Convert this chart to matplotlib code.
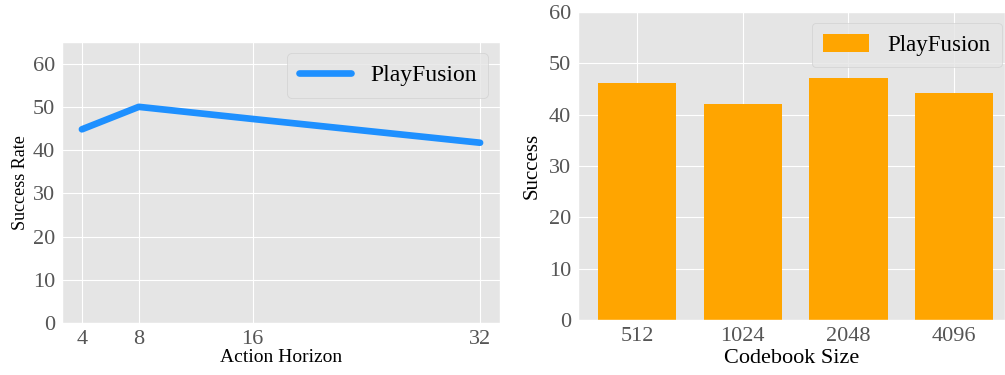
import matplotlib
matplotlib.use("Agg")
import matplotlib.pyplot as plt
import numpy as np

# data
horizon = [4, 8, 16, 32]
horizon_success = [44.8, 50.0, 47.2, 41.7]

codebook = ["512", "1024", "2048", "4096"]
codebook_success = [46.2, 42.1, 47.1, 44.2]

plt.style.use("ggplot")
plt.rcParams["font.family"] = ["Liberation Serif", "DejaVu Serif"]

fig = plt.figure(figsize=(10.05, 3.75), dpi=100)
W, H = 1005, 375

# left: action horizon
ax1 = fig.add_axes([62 / W, (H - 323) / H, (500 - 62) / W, (323 - 42) / H])
ax1.plot(horizon, horizon_success, color="#1E90FF", linewidth=4.8,
         solid_capstyle="round", label="PlayFusion")
ax1.set_ylim(0, 65)
ax1.set_yticks(range(0, 61, 10))
ax1.set_xticks(horizon)
ax1.tick_params(labelsize=16, colors="#555555", length=0, pad=5)
ax1.set_xlabel("Action Horizon", fontsize=14, color="black", labelpad=0)
ax1.set_ylabel("Success Rate", fontsize=13, color="black", labelpad=3)
ax1.legend(loc="upper right", fontsize=17, handlelength=2.2, borderpad=0.5,
           borderaxespad=0, bbox_to_anchor=(0.973, 0.961))

# right: codebook size
ax2 = fig.add_axes([578 / W, (H - 320) / H, (1005 - 578) / W, (320 - 12) / H])
pos = np.arange(len(codebook))
ax2.bar(pos, codebook_success, width=0.74, color="#FFA500", label="PlayFusion")
ax2.set_xlim(-0.557, 3.48)
ax2.set_ylim(0, 60)
ax2.set_xticks(pos)
ax2.set_xticklabels(codebook)
ax2.tick_params(labelsize=16, colors="#555555", length=0, pad=5)
ax2.set_xlabel("Codebook Size", fontsize=16, color="black", labelpad=2)
ax2.set_ylabel("Success", fontsize=15, color="black", labelpad=5)
ax2.legend(loc="upper right", fontsize=16.5, handlelength=2.0, handleheight=0.8,
           borderpad=0.5, borderaxespad=0, bbox_to_anchor=(0.993, 0.965))

fig.savefig("out.png", dpi=100)
